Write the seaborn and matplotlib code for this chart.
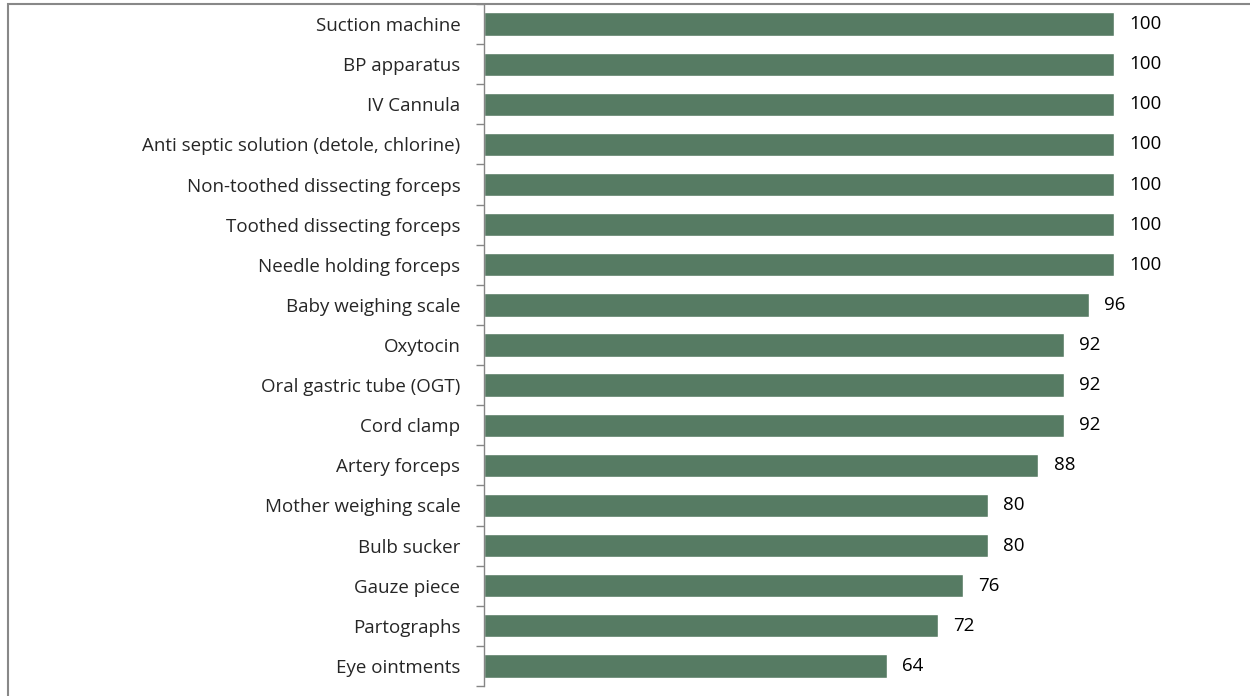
import matplotlib
matplotlib.use("Agg")
import matplotlib.pyplot as plt
import seaborn as sns
import pandas as pd
import numpy as np
from matplotlib.patches import Rectangle

categories = ["Suction machine", "BP apparatus", "IV Cannula",
              "Anti septic solution (detole, chlorine)", "Non-toothed dissecting forceps",
              "Toothed dissecting forceps", "Needle holding forceps", "Baby weighing scale",
              "Oxytocin", "Oral gastric tube (OGT)", "Cord clamp", "Artery forceps",
              "Mother weighing scale", "Bulb sucker", "Gauze piece", "Partographs",
              "Eye ointments"]
values = [100, 100, 100, 100, 100, 100, 100, 96, 92, 92, 92, 88, 80, 80, 76, 72, 64]

df = pd.DataFrame({"item": categories, "pct": values})

sns.set_style("white")
plt.rcParams['font.family'] = ['Open Sans', 'DejaVu Sans']

fig = plt.figure(figsize=(12.5, 6.96), dpi=100)
W, H = 1250, 696
ax = fig.add_axes([484 / W, 1 - 686 / H, (1240 - 484) / W, (686 - 4) / H])

sns.barplot(data=df, x="pct", y="item", orient="h", color="#567B63",
            saturation=1, width=0.58, ax=ax)

ax.set_xlim(0, 100 * (1240 - 484) / (1114 - 484))
ax.set_ylim(len(categories) - 0.5, -0.5)
ax.set_xlabel("")
ax.set_ylabel("")
ax.set_xticks([])
for s in ["top", "right", "bottom"]:
    ax.spines[s].set_visible(False)
ax.spines["left"].set_color("#868686")
ax.spines["left"].set_linewidth(1.0)

ax.set_yticks(np.arange(len(categories)))
ax.set_yticklabels(categories, fontsize=13.5)
ax.tick_params(axis="y", which="major", length=0, pad=17)
ax.set_yticks(np.arange(-0.5, len(categories), 1), minor=True)
ax.tick_params(axis="y", which="minor", length=6, width=1.0, color="#868686", left=True)

for i, v in enumerate(values):
    ax.text(v + 2.4, i, f"{v}", va="center", ha="left", fontsize=13.5, color="black")

fig.patches.append(Rectangle((7.5 / W, -0.1), 1.2, 1.1 - 4.5 / H,
                             transform=fig.transFigure, fill=False,
                             edgecolor="#888888", linewidth=1.5, zorder=0))

fig.savefig("out.png", dpi=100)
